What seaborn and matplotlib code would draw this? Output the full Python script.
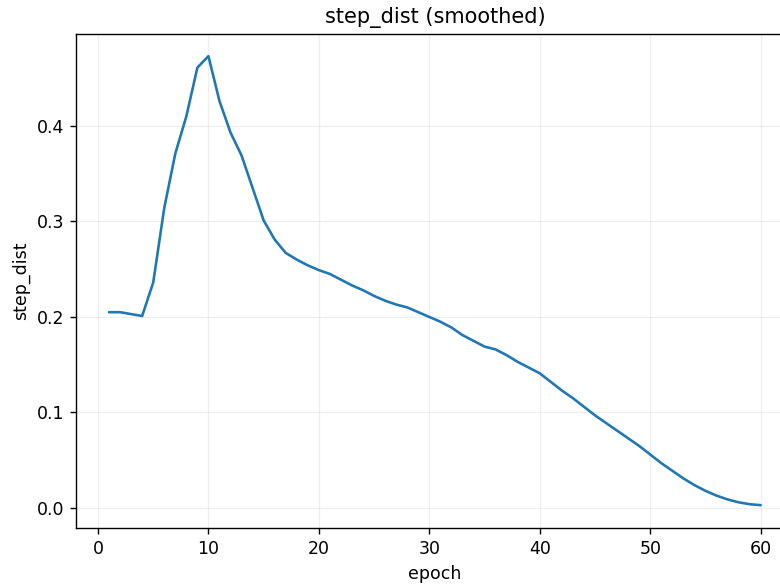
import numpy as np
import pandas as pd
import matplotlib
matplotlib.use("Agg")
import matplotlib.pyplot as plt
import seaborn as sns

epochs = list(range(1, 61))
step_dist = [
    0.205, 0.205, 0.203, 0.201, 0.236, 0.314, 0.371, 0.410, 0.461, 0.473,
    0.426, 0.393, 0.369, 0.335, 0.301, 0.281, 0.267, 0.260, 0.254, 0.249,
    0.245, 0.239, 0.233, 0.228, 0.222, 0.217, 0.213, 0.210, 0.205, 0.200,
    0.195, 0.189, 0.181, 0.175, 0.169, 0.166, 0.160, 0.153, 0.147, 0.141,
    0.132, 0.123, 0.115, 0.106, 0.097, 0.089, 0.081, 0.073, 0.065, 0.056,
    0.047, 0.039, 0.031, 0.024, 0.018, 0.013, 0.009, 0.006, 0.004, 0.003,
]

df = pd.DataFrame({"epoch": epochs, "step_dist": step_dist})

sns.set_style("white")
plt.rcParams["font.family"] = ["DejaVu Sans"]

fig = plt.figure(figsize=(6.24, 4.704), dpi=125)
# the axes run slightly past the right edge of the canvas
ax = fig.add_axes([0.098, 0.1027, 0.919, 0.840])

sns.lineplot(data=df, x="epoch", y="step_dist", color="#1f77b4", linewidth=1.5, ax=ax)

ax.set_title("step_dist (smoothed)", fontsize=12)
ax.set_xlabel("epoch", fontsize=10)
ax.set_ylabel("step_dist", fontsize=10)
ax.set_xticks([0, 10, 20, 30, 40, 50, 60])
ax.set_yticks([0.0, 0.1, 0.2, 0.3, 0.4])
ax.tick_params(axis="both", which="both", length=3.5, width=0.8, labelsize=10,
               bottom=True, left=True, color="black", labelcolor="black")
ax.xaxis.label.set_color("black")
ax.yaxis.label.set_color("black")
ax.title.set_color("black")
ax.grid(True, alpha=0.3)
for s in ax.spines.values():
    s.set_visible(True)
    s.set_color("black")
    s.set_linewidth(0.8)
ax.spines["right"].set_visible(False)

fig.savefig("out.png", dpi=125)
